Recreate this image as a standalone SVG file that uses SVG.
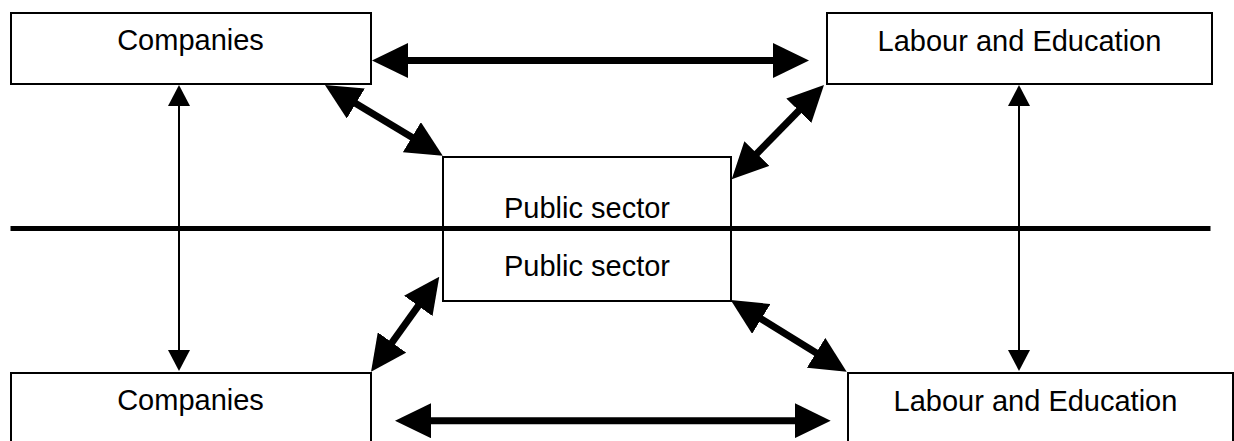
<svg xmlns="http://www.w3.org/2000/svg" width="1234" height="441" viewBox="0 0 1234 441">
  <style>
    .box { fill: #ffffff; stroke: #000000; stroke-width: 2; }
    .label { font-family: "Liberation Sans", Arial, sans-serif; font-size: 29px; fill: #000000; text-anchor: middle; }
    .thick { stroke: #000000; stroke-width: 7; fill: none; marker-start: url(#bigHead); marker-end: url(#bigHead); }
    .thin { stroke: #000000; stroke-width: 2; fill: none; marker-start: url(#smallHead); marker-end: url(#smallHead); }
    .divider { stroke: #000000; stroke-width: 5; }
  </style>
  <defs>
    <marker id="bigHead" viewBox="0 0 36 35" markerWidth="36" markerHeight="35" refX="16" refY="17.5" orient="auto-start-reverse" markerUnits="userSpaceOnUse">
      <path d="M0,0 L36,17.5 L0,35 Z" fill="#000000"/>
    </marker>
    <marker id="smallHead" viewBox="0 0 21 22" markerWidth="21" markerHeight="22" refX="11" refY="11" orient="auto-start-reverse" markerUnits="userSpaceOnUse">
      <path d="M0,0 L21,11 L0,22 Z" fill="#000000"/>
    </marker>
  </defs>

  <g id="companies-top">
    <rect class="box" x="11" y="13" width="360" height="71"/>
    <text class="label" x="190.5" y="50">Companies</text>
  </g>
  <g id="labour-top">
    <rect class="box" x="827" y="13" width="385" height="71"/>
    <text class="label" x="1019.5" y="51">Labour and Education</text>
  </g>
  <g id="public-sector">
    <rect class="box" x="443" y="157" width="288" height="144"/>
    <text class="label" x="587" y="218">Public sector</text>
    <text class="label" x="587" y="276">Public sector</text>
  </g>
  <g id="companies-bottom">
    <rect class="box" x="11" y="373" width="360" height="71"/>
    <text class="label" x="190.5" y="410">Companies</text>
  </g>
  <g id="labour-bottom">
    <rect class="box" x="848" y="373" width="385" height="71"/>
    <text class="label" x="1035.5" y="411">Labour and Education</text>
  </g>

  <!-- boundary line across the page -->
  <g id="divider">
    <line class="divider" x1="10.5" y1="228.5" x2="1210.5" y2="228.5"/>
  </g>

  <g id="connectors">
    <line class="thick" x1="392" y1="60.5" x2="789" y2="60.5"/>
    <line class="thick" x1="415" y1="420.7" x2="810.7" y2="420.7"/>
    <line class="thick" x1="342.1" y1="95.3" x2="425.6" y2="145.4"/>
    <line class="thick" x1="745.7" y1="165.0" x2="810.0" y2="99.3"/>
    <line class="thick" x1="382.7" y1="355.5" x2="427.6" y2="292.9"/>
    <line class="thick" x1="747.7" y1="310.5" x2="829.7" y2="361.2"/>
    <line class="thin" x1="179" y1="95" x2="179" y2="361"/>
    <line class="thin" x1="1019" y1="95" x2="1019" y2="361"/>
  </g>
</svg>
